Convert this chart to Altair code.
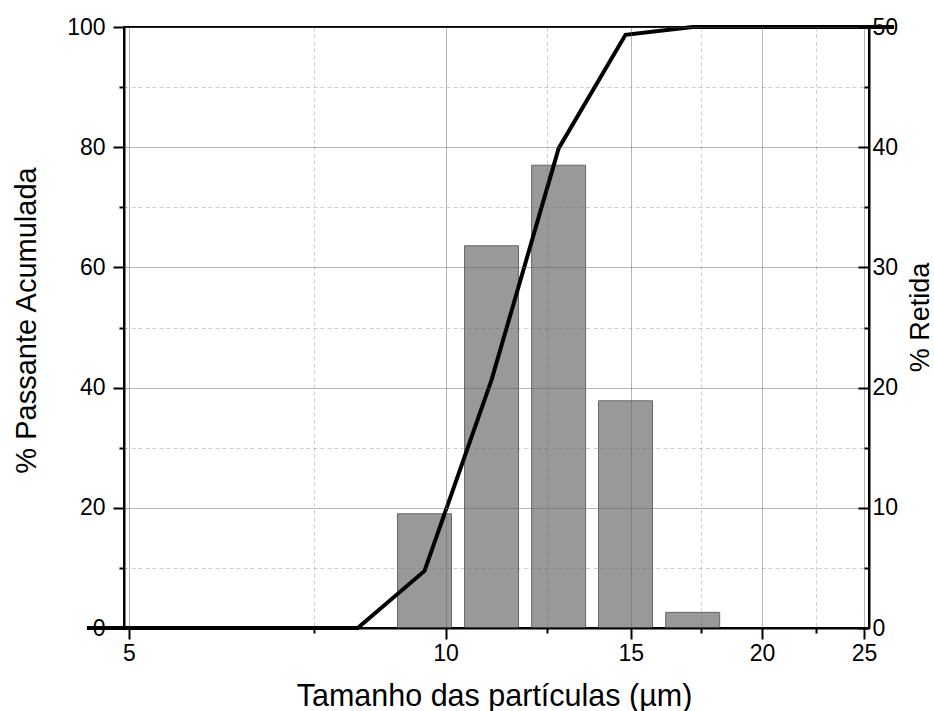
import altair as alt
import pandas as pd

FONT = "Liberation Sans"

# Bars: % retained per size class
bar_size = [9.55, 11.06, 12.81, 14.83, 17.18]
retida = [9.5, 31.8, 38.5, 18.9, 1.3]

# Line: cumulative % passing
line_size = [4.56, 5.28, 6.12, 7.09, 8.25, 9.55, 11.06, 12.81, 14.83, 17.18, 19.9, 23.0, 26.7]
passante = [0, 0, 0, 0, 0, 9.5, 41.3, 79.8, 98.7, 100, 100, 100, 100]

x_ticks = [5, 7.5, 10, 12.5, 15, 17.5, 20, 22.5, 25]
left_ticks = [0, 10, 20, 30, 40, 50, 60, 70, 80, 90, 100]
right_ticks = [0, 5, 10, 15, 20, 25, 30, 35, 40, 45, 50]

df_bar = pd.DataFrame({"size": bar_size, "retida": retida})
df_line = pd.DataFrame({"size": line_size, "passante": passante})

x_scale = alt.Scale(type="log", domain=[5, 25], nice=False)

def cond(test, a, b):
    return {"condition": {"test": test, "value": a}, "value": b}

x_major = "datum.value % 5 === 0"
x_axis = alt.Axis(
    title="Tamanho das partículas (µm)",
    values=x_ticks,
    labelExpr="datum.value % 5 === 0 ? format(datum.value, 'd') : ''",
    labelFlush=False,
    labelOverlap=False,
    labelPadding=3,
    tickSize=cond(x_major, 11, 5),
    grid=True,
    gridColor="#606060",
    gridDash=cond(x_major, [], [4, 3]),
    gridOpacity=cond(x_major, 0.45, 0.3),
    gridWidth=1,
    titleFontSize=30.5,
    titleX=370,
    titleY=77,
    titleAlign="center",
    titleBaseline="alphabetic",
    zindex=1,
)

y_major = "datum.value % 20 === 0"
y_left = alt.Axis(
    title="% Passante Acumulada",
    orient="left",
    values=left_ticks,
    labelExpr="datum.value % 20 === 0 ? format(datum.value, 'd') : ''",
    labelOverlap=False,
    labelPadding=8,
    tickSize=cond(y_major, 11, 5),
    grid=True,
    gridColor="#606060",
    gridDash=cond(y_major, [], [4, 3]),
    gridOpacity=cond(y_major, 0.45, 0.3),
    gridWidth=1,
    titleAngle=-90,
    titleX=-89,
    titleY=293,
    titleAlign="center",
    titleBaseline="alphabetic",
    zindex=1,
)

r_major = "datum.value % 10 === 0"
y_right = alt.Axis(
    title="% Retida",
    orient="right",
    values=right_ticks,
    labelExpr="datum.value % 10 === 0 ? format(datum.value, 'd') : ''",
    labelOverlap=False,
    labelPadding=14,
    tickSize=cond(r_major, -11, -5),
    grid=False,
    titleFontSize=27,
    titleAngle=-90,
    titleX=59,
    titleY=290,
    titleAlign="center",
    titleBaseline="alphabetic",
    zindex=1,
)

bars = alt.Chart(df_bar).mark_bar(
    size=54, color="#999999", stroke="#666666", strokeWidth=1
).encode(
    x=alt.X("size:Q", scale=x_scale, axis=x_axis),
    y=alt.Y("retida:Q", scale=alt.Scale(domain=[0, 50], nice=False), axis=y_right),
)

line = alt.Chart(df_line).mark_line(
    color="black", strokeWidth=4, clip=False
).encode(
    x=alt.X("size:Q", scale=x_scale, axis=x_axis),
    y=alt.Y("passante:Q", scale=alt.Scale(domain=[0, 100], nice=False), axis=y_left),
)

chart = alt.layer(bars, line).resolve_scale(y="independent").properties(
    width=745,
    height=601,
    autosize=alt.AutoSizeParams(type="none"),
    padding={"left": 124, "top": 27, "right": 65, "bottom": 83},
    background="white",
).configure_view(
    stroke="black", strokeWidth=2
).configure_axis(
    labelFont=FONT,
    titleFont=FONT,
    labelFontSize=23,
    titleFontSize=29,
    labelColor="black",
    titleColor="black",
    titleFontWeight="normal",
    domainColor="black",
    domainWidth=2,
    tickColor="black",
    tickWidth=2,
)

chart.save("out.html", embed_options={"renderer": "svg", "actions": False})
